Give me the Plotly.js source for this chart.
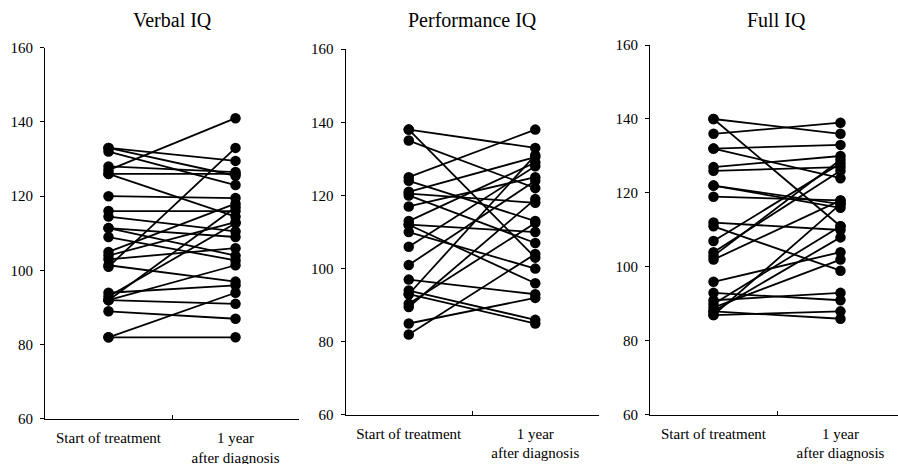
<!DOCTYPE html>
<html>
<head>
<meta charset="utf-8">
<script src="https://cdn.plot.ly/plotly-3.0.1.min.js"></script>
<style>html,body{margin:0;padding:0;background:#fff;}#chart{width:898px;height:464px;}</style>
</head>
<body>
<div id="chart"></div>
<script>
// ---- data ----
const categories = ["Start of treatment", "1 year<br>after diagnosis"];
const panelTitles = ["Verbal IQ", "Performance IQ", "Full IQ"];
const yTicks = [60, 80, 100, 120, 140, 160];

const verbalStart = [133, 133, 132, 128, 127, 126, 126, 120, 116, 114.5, 111.4, 111.4, 109, 105, 104, 103, 101, 101.4, 94, 93, 92, 92, 92, 89, 82, 82];
const verbalEnd   = [129.5, 125.5, 123, 126.5, 141, 126, 114.5, 119.5, 116, 110.5, 109, 104, 102.7, 118, 113, 106, 133, 97, 96, 112.7, 117, 101.4, 91, 87, 82, 94];

const perfStart = [138, 138, 135, 125, 124, 121, 120.5, 120, 117, 113, 112, 110, 106, 101, 97, 94, 93, 93, 90.4, 89.5, 85, 82, 112];
const perfEnd   = [133, 103, 122, 138, 113, 130.5, 118, 107, 125, 129, 110, 100, 128, 124, 93, 86, 85, 131, 112.5, 119, 92, 104, 96];

const fullStart = [140, 140, 136, 132, 132, 127, 126, 122, 122, 119, 112, 111, 107, 104, 103, 102, 96, 93, 91, 90, 89, 88, 87, 87, 88];
const fullEnd   = [136, 111, 139, 133, 124, 130, 127, 117, 116, 118, 110, 99, 128, 126, 129, 118, 104, 91, 93, 111, 102, 86, 88, 117, 108];

// ---- build ----
const panels = [
  {start: verbalStart, end: verbalEnd},
  {start: perfStart, end: perfEnd},
  {start: fullStart, end: fullEnd}
];
const xDomains = [[0, 0.2978], [0.3523, 0.6489], [0.7093, 1]];
const yDomains = [[0, 0.993], [0.0108, 0.989], [0.0108, 1]];
const xRanges = [[-0.5, 1.5], [-0.5, 1.5], [-0.5, 1.453]];
const serif = "'Liberation Serif', 'Times New Roman', serif";

const traces = [];
panels.forEach((p, k) => {
  const sfx = k === 0 ? "" : String(k + 1);
  p.start.forEach((s, i) => {
    traces.push({
      type: "scatter", mode: "lines+markers",
      x: categories, y: [s, p.end[i]],
      xaxis: "x" + sfx, yaxis: "y" + sfx,
      line: {color: "#000", width: 1.8},
      marker: {color: "#000", size: 10.5},
      hoverinfo: "y", showlegend: false, cliponaxis: false
    });
  });
});

const layout = {
  width: 898, height: 464,
  margin: {l: 45, r: 0, t: 45, b: 45},
  paper_bgcolor: "#fff", plot_bgcolor: "#fff",
  font: {family: serif, size: 15, color: "#000"},
  showlegend: false,
  annotations: []
};

panels.forEach((p, k) => {
  const sfx = k === 0 ? "" : String(k + 1);
  layout["xaxis" + sfx] = {
    domain: xDomains[k], anchor: "y" + sfx,
    type: "category", range: xRanges[k],
    tickson: "boundaries", ticks: "inside", ticklen: 4, tickcolor: "#000",
    ticklabelstandoff: 5,
    showline: true, linecolor: "#000", linewidth: 1,
    showgrid: false, zeroline: false, fixedrange: true,
    tickfont: {family: serif, size: 15, color: "#000"}
  };
  layout["yaxis" + sfx] = {
    domain: yDomains[k], anchor: "x" + sfx,
    range: [60, 160], tickvals: yTicks,
    ticks: "outside", ticklen: 4, tickcolor: "#000",
    ticklabelstandoff: 4,
    showline: true, linecolor: "#000", linewidth: 1,
    showgrid: false, zeroline: false, fixedrange: true,
    tickfont: {family: serif, size: 15, color: "#000"}
  };
  layout.annotations.push({
    text: panelTitles[k], showarrow: false,
    xref: "x" + sfx + " domain", yref: "paper",
    x: k === 2 ? 0.51 : 0.5, y: 1.068, xanchor: "center", yanchor: "middle",
    font: {family: serif, size: 20, color: "#000"}
  });
});

Plotly.newPlot("chart", traces, layout, {staticPlot: true});
</script>
</body>
</html>
